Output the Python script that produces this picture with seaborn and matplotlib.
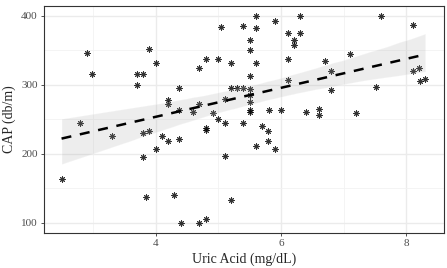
import seaborn as sns
import matplotlib.pyplot as plt
import numpy as np
import pandas as pd

# valeurs
uric_acid = [2.50, 2.80, 2.90, 2.99, 3.30, 3.70, 3.80, 3.70, 3.80, 3.90,
             3.89, 4.00, 4.00, 3.80, 3.85, 4.10, 4.20, 4.19, 4.19, 4.38,
             4.38, 4.38, 4.30, 4.40, 4.60, 4.70, 4.70, 4.70, 4.80, 4.80,
             4.80, 4.80, 4.91, 5.00, 5.00, 5.04, 5.11, 5.11, 5.11, 5.20,
             5.20, 5.20, 5.30, 5.40, 5.40, 5.40, 5.51, 5.51, 5.51, 5.51,
             5.51, 5.51, 5.51, 5.51, 5.60, 5.60, 5.60, 5.60, 5.70, 5.80,
             5.80, 5.81, 5.90, 5.91, 6.00, 6.11, 6.11, 6.11, 6.20, 6.21,
             6.31, 6.31, 6.40, 6.61, 6.61, 6.70, 6.80, 6.80, 7.10, 7.20,
             7.51, 7.60, 8.11, 8.11, 8.20, 8.21, 8.30]
cap = [163, 244, 346, 316, 226, 316, 316, 299, 230, 233,
       352, 331, 207, 195, 137, 226, 219, 278, 272, 295,
       263, 221, 140, 100, 261, 325, 272, 100, 106, 337,
       237, 234, 259, 337, 251, 383, 279, 245, 197, 332,
       296, 133, 296, 385, 295, 245, 365, 351, 313, 294,
       285, 275, 264, 261, 400, 382, 332, 211, 240, 233,
       219, 264, 392, 207, 264, 375, 337, 307, 365, 357,
       400, 375, 260, 265, 256, 335, 320, 292, 345, 259,
       297, 400, 386, 320, 325, 305, 308]

df = pd.DataFrame({'Uric Acid': uric_acid, 'CAP': cap})

sns.set_style("whitegrid")
plt.rcParams['font.family'] = ['Liberation Serif', 'DejaVu Serif']

fig = plt.figure(figsize=(4.47, 2.68), dpi=100)
ax = fig.add_axes([44 / 447, 35 / 268, 400 / 447, 227 / 268])

sns.regplot(data=df, x='Uric Acid', y='CAP', ax=ax, ci=95, seed=1,
            marker=(8, 2, 0),
            scatter_kws={'s': 15, 'color': 'black', 'linewidths': 0.7},
            line_kws={'color': 'black', 'linewidth': 1.8, 'dashes': (4, 3.5)})

# bande de confiance plus claire
for coll in ax.collections[1:]:
    coll.set_facecolor('#999999')
    coll.set_alpha(0.17)

ax.set_xlim(2.22, 8.6)
ax.set_ylim(85.5, 414)
ax.set_xticks([4, 6, 8])
ax.set_yticks([100, 200, 300, 400])
ax.set_xticks([3, 5, 7], minor=True)
ax.set_yticks([150, 250, 350], minor=True)
ax.grid(which='major', color='#ebebeb', linewidth=1.0)
ax.grid(which='minor', color='#f2f2f2', linewidth=0.6)
ax.set_axisbelow(True)
for s in ax.spines.values():
    s.set_color('#333333')
    s.set_linewidth(0.8)
ax.tick_params(axis='both', which='major', length=2.5, width=0.6, color='#333333',
               labelsize=8, labelcolor='#4d4d4d', pad=2, bottom=True, left=True)
ax.tick_params(axis='both', which='minor', length=0)
ax.set_xlabel('Uric Acid (mg/dL)', fontsize=10, labelpad=3)
ax.set_ylabel('CAP (db/m)', fontsize=10, labelpad=4)

plt.savefig('out.png', dpi=100)
